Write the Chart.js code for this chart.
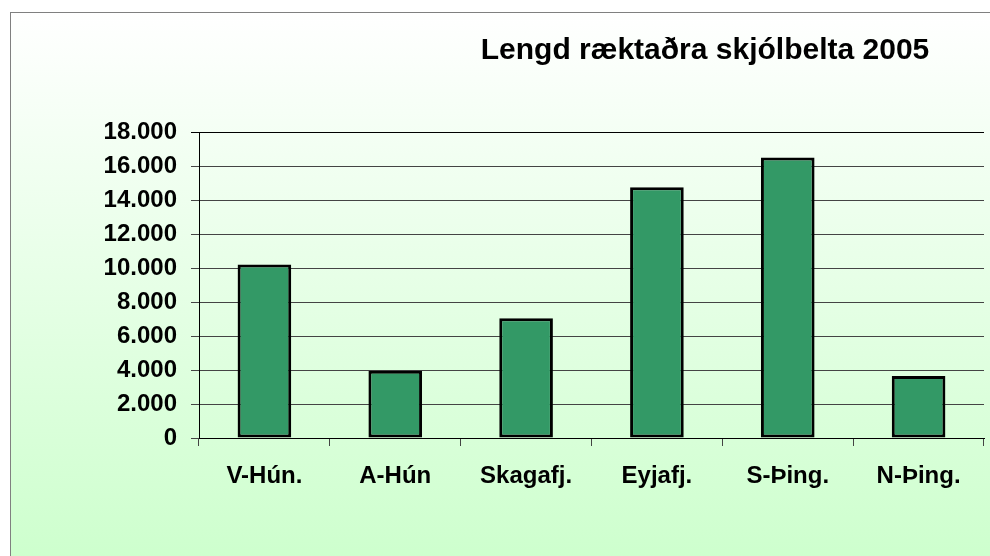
<!DOCTYPE html>
<html>
<head>
<meta charset="utf-8">
<script src="https://cdn.jsdelivr.net/npm/chart.js@4"></script>
<style>
  html, body { margin: 0; padding: 0; width: 990px; height: 556px; overflow: hidden; background: #fff; }
  #frame {
    position: absolute; left: 10px; top: 12px; width: 1000px; height: 560px;
    border: 1px solid #808080;
    background: linear-gradient(to bottom, #ffffff 0%, #ccffcc 100%);
  }
  #chart { position: absolute; left: 0; top: 0; }
</style>
</head>
<body>
<div id="frame"></div>
<canvas id="chart" width="990" height="556"></canvas>
<script>
  // chart data
  var titleText = "Lengd ræktaðra skjólbelta 2005";
  var regions = ["V-Hún.", "A-Hún", "Skagafj.", "Eyjafj.", "S-Þing.", "N-Þing."];
  var beltLengths = [10200, 3950, 7050, 14750, 16500, 3650];
  var yMin = 0, yMax = 18000, yStep = 2000;

  var fontFamily = "'Liberation Sans', Arial, sans-serif";
  var barFill = "#339966";

  function formatThousands(v) {
    return Number(v).toLocaleString("en-US").replace(/,/g, ".");
  }

  // title sits right of centre in the original, so draw it by hand
  var offsetTitle = {
    id: "offsetTitle",
    afterDraw(chart) {
      const ctx = chart.ctx;
      ctx.save();
      ctx.font = "bold 30px " + fontFamily;
      ctx.fillStyle = "#000";
      ctx.textAlign = "center";
      ctx.textBaseline = "alphabetic";
      ctx.fillText(titleText, 705, 59);
      ctx.restore();
    }
  };

  new Chart(document.getElementById("chart"), {
    type: "bar",
    data: {
      labels: regions,
      datasets: [{
        data: beltLengths,
        backgroundColor: barFill,
        borderColor: "#000",
        borderWidth: 3,
        borderSkipped: false,
        barPercentage: 0.41,
        categoryPercentage: 1
      }]
    },
    options: {
      responsive: false,
      animation: false,
      layout: { padding: { top: 132, right: 6, left: 0, bottom: 0 } },
      plugins: { legend: { display: false }, tooltip: { enabled: false }, title: { display: false } },
      scales: {
        x: {
          offset: true,
          grid: { offset: true, drawOnChartArea: false, drawTicks: true, tickLength: 8, color: "#444" },
          border: { color: "#000", width: 1 },
          ticks: { color: "#000", padding: 16, font: { family: fontFamily, size: 24, weight: "bold" } },
          afterFit(scale) { scale.height = 118; }
        },
        y: {
          min: yMin, max: yMax,
          grid: { color: (c) => c.tick && c.tick.value === yMax ? "#000" : "#444", lineWidth: 1, tickLength: 8 },
          border: { color: "#000", width: 1 },
          ticks: {
            stepSize: yStep, color: "#000", padding: 14,
            font: { family: fontFamily, size: 24, weight: "bold" },
            callback: (v) => formatThousands(v)
          },
          afterFit(scale) { scale.width = 199; }
        }
      }
    },
    plugins: [offsetTitle]
  });
</script>
</body>
</html>
